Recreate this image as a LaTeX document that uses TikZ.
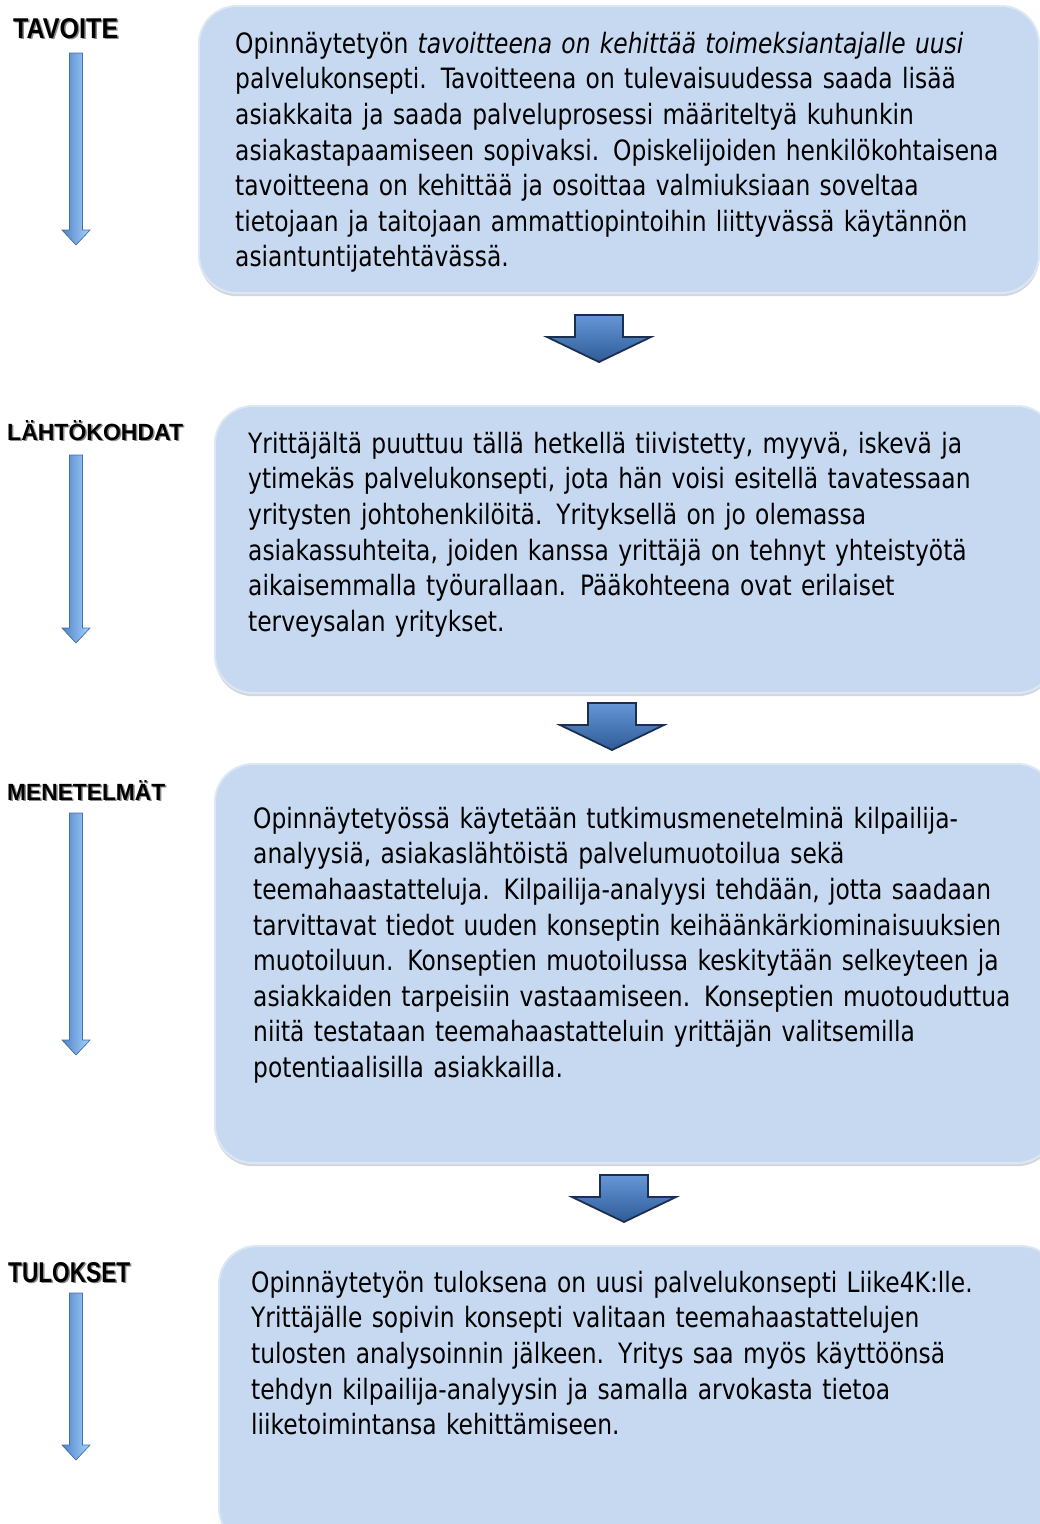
\documentclass[tikz,border=0pt]{standalone}
\usepackage{fontspec}
\usepackage{graphicx}
\newfontfamily\bodyfont[FakeStretch=0.835]{DejaVu Sans}
\newfontfamily\headfont{Liberation Sans}
\definecolor{boxfill}{HTML}{C6D9F0}
\definecolor{boxedge}{HTML}{DCE7F6}
\definecolor{boxshadow}{HTML}{D3D6DC}
\definecolor{thindark}{HTML}{4F82C6}
\definecolor{thinlight}{HTML}{A6D3FF}
\definecolor{blktop}{HTML}{6696D6}
\definecolor{blkbot}{HTML}{2E5C98}
\definecolor{blkedge}{HTML}{1B3050}
\newcommand\hdg[2]{\resizebox{#1}{20pt}{\headfont\bfseries #2}}
\newcommand\thinarr[2]{%
  \filldraw[thinarrow] (69.5,#1) -- (82.5,#1) -- (82.5,#2-15) -- (90,#2-15) -- (76,#2)
    -- (62,#2-15) -- (69.5,#2-15) -- cycle;}
\newcommand\blkarr[2]{%
  \filldraw[blockarrow] (#1-24,#2) -- (#1+24,#2) -- (#1+24,#2+22) -- (#1+52,#2+22)
    -- (#1,#2+47) -- (#1-52,#2+22) -- (#1-24,#2+22) -- cycle;}
\tikzset{
  panel/.style={fill=boxfill, draw=boxedge, line width=2pt, rounded corners=38pt, anchor=north west, inner sep=0pt},
  panelshadow/.style={fill=boxshadow, rounded corners=38pt, anchor=north west, inner sep=0pt},
  bodytext/.style={anchor=north west, inner sep=0pt, text width=800pt, align=left,
    font=\bodyfont\fontsize{28}{35.6}\selectfont},
  heading/.style={anchor=north west, inner sep=0pt},
  headshadow/.style={anchor=north west, inner sep=0pt, text=black!45},
  thinarrow/.style={left color=thindark, right color=thinlight, draw=thindark!85!black, line width=0.6pt},
  blockarrow/.style={top color=blktop, bottom color=blkbot, draw=blkedge, line width=1.8pt, line join=miter},
}
\begin{document}
\begin{tikzpicture}[x=1pt,y=-1pt]
\useasboundingbox (0,0) rectangle (1040,1524);
\clip (0,0) rectangle (1040,1524);

% panels
\node[panelshadow, minimum width=840pt, minimum height=287pt] (s1) at (199,9) {};
\node[panel, minimum width=840pt, minimum height=287pt] (box1) at (198,5) {};
\node[panelshadow, minimum width=840pt, minimum height=287pt] (s2) at (215,409) {};
\node[panel, minimum width=840pt, minimum height=287pt] (box2) at (214,405) {};
\node[panelshadow, minimum width=840pt, minimum height=399pt] (s3) at (215,767) {};
\node[panel, minimum width=840pt, minimum height=399pt] (box3) at (214,763) {};
\node[panelshadow, minimum width=840pt, minimum height=300pt] (s4) at (219,1249) {};
\node[panel, minimum width=840pt, minimum height=300pt] (box4) at (218,1245) {};

% body texts
\node[bodytext] (t1) at (235,25) {\rule{0pt}{28pt}Opinnäytetyön \textit{tavoitteena on kehittää toimeksiantajalle uusi}\\
palvelukonsepti. Tavoitteena on tulevaisuudessa saada lisää\\
asiakkaita ja saada palveluprosessi määriteltyä kuhunkin\\
asiakastapaamiseen sopivaksi. Opiskelijoiden henkilökohtaisena\\
tavoitteena on kehittää ja osoittaa valmiuksiaan soveltaa\\
tietojaan ja taitojaan ammattiopintoihin liittyvässä käytännön\\
asiantuntijatehtävässä.};

\node[bodytext] (t2) at (248,425) {\rule{0pt}{28pt}Yrittäjältä puuttuu tällä hetkellä tiivistetty, myyvä, iskevä ja\\
ytimekäs palvelukonsepti, jota hän voisi esitellä tavatessaan\\
yritysten johtohenkilöitä. Yrityksellä on jo olemassa\\
asiakassuhteita, joiden kanssa yrittäjä on tehnyt yhteistyötä\\
aikaisemmalla työurallaan. Pääkohteena ovat erilaiset\\
terveysalan yritykset.};

\node[bodytext] (t3) at (253,800) {\rule{0pt}{28pt}Opinnäytetyössä käytetään tutkimusmenetelminä kilpailija-\\
analyysiä, asiakaslähtöistä palvelumuotoilua sekä\\
teemahaastatteluja. Kilpailija-analyysi tehdään, jotta saadaan\\
tarvittavat tiedot uuden konseptin keihäänkärkiominaisuuksien\\
muotoiluun. Konseptien muotoilussa keskitytään selkeyteen ja\\
asiakkaiden tarpeisiin vastaamiseen. Konseptien muotouduttua\\
niitä testataan teemahaastatteluin yrittäjän valitsemilla\\
potentiaalisilla asiakkailla.};

\node[bodytext] (t4) at (251,1264) {\rule{0pt}{28pt}Opinnäytetyön tuloksena on uusi palvelukonsepti Liike4K:lle.\\
Yrittäjälle sopivin konsepti valitaan teemahaastattelujen\\
tulosten analysoinnin jälkeen. Yritys saa myös käyttöönsä\\
tehdyn kilpailija-analyysin ja samalla arvokasta tietoa\\
liiketoimintansa kehittämiseen.};

% headings
\node[headshadow] (h1s) at (14.5,19.5) {\hdg{105pt}{TAVOITE}};
\node[heading] (h1) at (13,18) {\hdg{105pt}{TAVOITE}};
\node[headshadow] (h2s) at (8.5,421.5) {\hdg{176pt}{LÄHTÖKOHDAT}};
\node[heading] (h2) at (7,420) {\hdg{176pt}{LÄHTÖKOHDAT}};
\node[headshadow] (h3s) at (8.5,781.5) {\hdg{158pt}{MENETELMÄT}};
\node[heading] (h3) at (7,780) {\hdg{158pt}{MENETELMÄT}};
\node[headshadow] (h4s) at (9.5,1263.5) {\hdg{122pt}{TULOKSET}};
\node[heading] (h4) at (8,1262) {\hdg{122pt}{TULOKSET}};

% thin arrows
\thinarr{53}{245}
\thinarr{455}{643}
\thinarr{813}{1055}
\thinarr{1293}{1460}

% block arrows
\blkarr{599}{315}
\blkarr{612}{703}
\blkarr{624}{1175}
\end{tikzpicture}
\end{document}
